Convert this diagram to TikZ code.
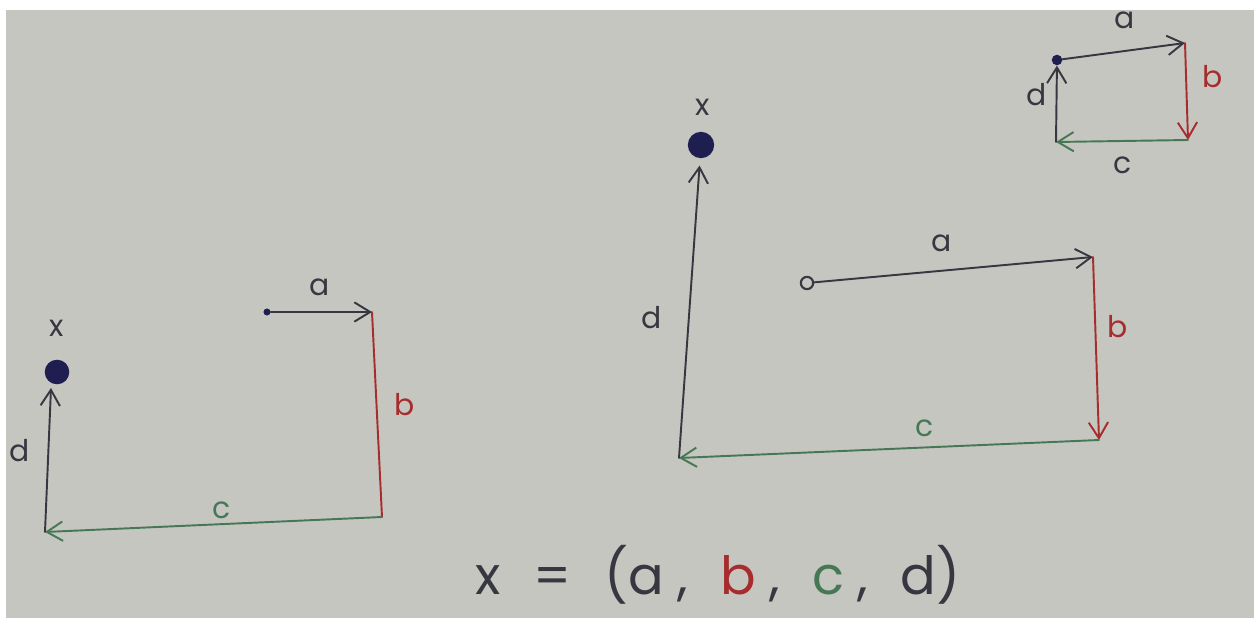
\documentclass[tikz,border=0pt]{standalone}
\usepackage{fontspec}
\setmainfont{Poppins}
\usetikzlibrary{arrows.meta, positioning}
\definecolor{paper}{RGB}{198,198,193}
\definecolor{ink}{RGB}{55,55,65}
\definecolor{navy}{RGB}{30,30,80}
\definecolor{redpen}{RGB}{165,45,45}
\definecolor{greenpen}{RGB}{70,120,85}
\tikzset{
  pen/.style={draw=ink, line width=1.1pt, line cap=round},
  redline/.style={pen, draw=redpen},
  greenline/.style={pen, draw=greenpen},
  tip/.style={-{Straight Barb[length=9pt, width=11pt, line width=1.1pt]}},
  bigdot/.style={circle, fill=navy, inner sep=0pt, minimum size=#1},
  hand/.style={text=ink, font=\fontsize{17}{20}\selectfont, inner sep=0pt},
}
\newcommand{\gap}{\hspace{0.62em}}
\begin{document}
\begin{tikzpicture}[x=0.02cm, y=-0.02cm]
\fill[white] (0,0) rectangle (1254,618);
\fill[paper] (6,10) rectangle (1254,618);

% left sketch
\node[bigdot=4pt] (lstart) at (267,312) {};
\coordinate (lcorner1) at (372,312);
\coordinate (lcorner2) at (382,517);
\coordinate (lcorner3) at (45,532);
\coordinate (lxfoot) at (51,388);
\node[bigdot=14pt] (lx) at (57,372) {};
\draw[pen, tip] (lstart) -- (lcorner1);
\draw[redline] (lcorner1) -- (lcorner2);
\draw[greenline, tip] (lcorner2) -- (lcorner3);
\draw[pen, tip] (lcorner3) -- (lxfoot);
\node[hand] (la) at (320,287) {a};
\node[hand, text=redpen] (lb) at (405,405) {b};
\node[hand, text=greenpen] (lc) at (222,510) {c};
\node[hand] (ld) at (20,451) {d};
\node[hand] (lxl) at (57,328) {x};

% middle sketch
\node[circle, draw=ink, line width=1.2pt, inner sep=0pt, minimum size=7pt] (mstart) at (807,283) {};
\coordinate (mcorner1) at (1093,257);
\coordinate (mcorner2) at (1099,440);
\coordinate (mcorner3) at (679,458);
\node[bigdot=15pt] (mx) at (701,145) {};
\draw[pen, tip] (mstart) -- (mcorner1);
\draw[redline, tip] (mcorner1) -- (mcorner2);
\draw[greenline, tip] (mcorner2) -- (mcorner3);
\draw[pen, tip, shorten >=4pt] (mcorner3) -- (mx);
\node[hand] (ma) at (942,243) {a};
\node[hand, text=redpen] (mb) at (1118,327) {b};
\node[hand, text=greenpen] (mc) at (925,428) {c};
\node[hand] (md) at (652,318) {d};
\node[hand] (mxl) at (703,107) {x};

% small sketch, top right
\node[bigdot=6pt] (sstart) at (1057,60) {};
\coordinate (scorner1) at (1185,43);
\coordinate (scorner2) at (1188,140);
\coordinate (scorner3) at (1056,142);
\draw[pen, tip] (sstart) -- (scorner1);
\draw[redline, tip] (scorner1) -- (scorner2);
\draw[greenline, tip] (scorner2) -- (scorner3);
\draw[pen, tip] (scorner3) -- (sstart);
\node[hand] (sa) at (1125,20) {a};
\node[hand, text=redpen] (sb) at (1213,77) {b};
\node[hand] (sc) at (1123,165) {c};
\node[hand] (sd) at (1037,95) {d};

% result
\node[hand, font=\fontsize{30}{34}\selectfont] (formula) at (718,575)
  {x\gap=\gap(a\hspace{0.25em},\gap\textcolor{redpen}{b}\hspace{0.25em},\gap\textcolor{greenpen}{c}\hspace{0.25em},\gap d)};
\end{tikzpicture}
\end{document}
